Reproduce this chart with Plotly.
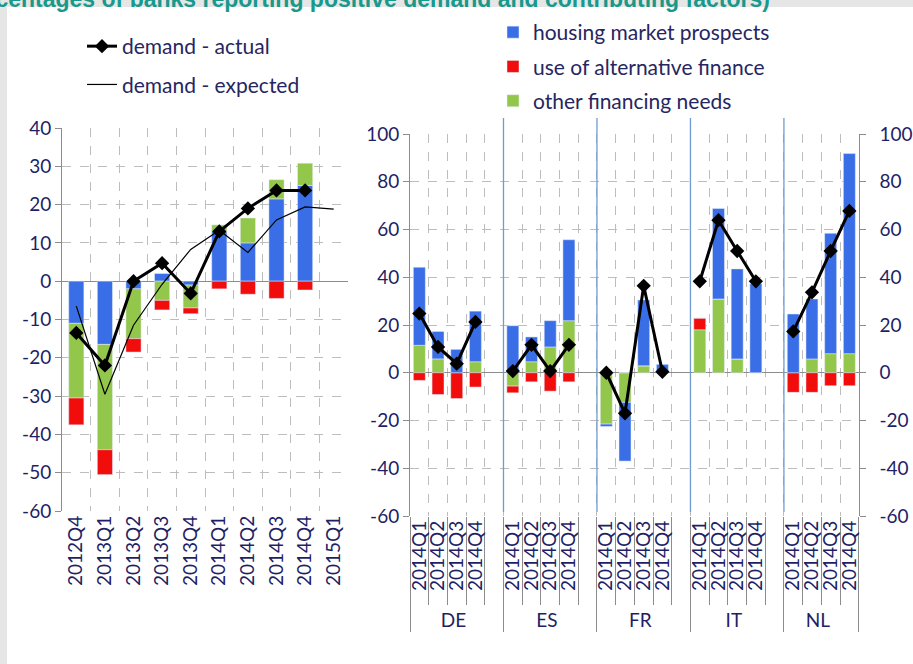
import plotly.graph_objects as go

# ---------------- data ----------------
left_quarters = ["2012Q4", "2013Q1", "2013Q2", "2013Q3", "2013Q4",
                 "2014Q1", "2014Q2", "2014Q3", "2014Q4", "2015Q1"]
left_housing = [-11.0, -16.5, -2.0, 2.0, -1.0, 13.0, 10.0, 21.5, 25.0, None]
left_other = [-19.5, -27.5, -13.0, -5.0, -6.0, 1.7, 6.5, 5.0, 5.8, None]
left_alternative = [-7.0, -6.5, -3.5, -2.5, -1.5, -2.0, -3.4, -4.5, -2.3, None]
left_actual = [-13.5, -22.0, 0.0, 4.7, -3.2, 13.0, 19.0, 23.7, 23.7, None]
left_expected = [-6.5, -29.5, -11.5, -0.8, 8.3, 13.3, 7.5, 16.0, 19.4, 18.8]
left_yticks = [-60, -50, -40, -30, -20, -10, 0, 10, 20, 30, 40]
left_yticktext = ["-60", "-50", "-40", "-30", "-20", "-10", "0", "10", "20", "30", "40"]

right_countries = ["DE", "ES", "FR", "IT", "NL"]
right_quarters = ["2014Q1", "2014Q2", "2014Q3", "2014Q4"]
# values listed country by country (DE, ES, FR, IT, NL), quarter by quarter
right_housing = [32.7, 11.5, 9.8, 21.2,
                 19.7, 10.4, 11.0, 33.9,
                 -1.0, -24.6, 27.6, 3.5,
                 0.0, 37.9, 37.7, 37.3,
                 24.6, 25.1, 50.4, 83.8]
right_alternative = [-3.2, -9.1, -10.8, -6.0,
                     -2.8, -3.8, -7.7, -3.8,
                     0.0, 0.0, 0.0, 0.0,
                     4.9, 0.0, 0.0, 0.0,
                     -8.2, -8.2, -5.4, -5.4]
right_other = [11.5, 5.8, 0.0, 4.6,
               -5.6, 4.6, 10.8, 21.8,
               -21.5, -12.4, 2.9, 0.0,
               18.0, 30.9, 5.8, 0.0,
               0.0, 5.8, 8.0, 8.0]
right_actual = [24.8, 10.8, 3.8, 21.3,
                0.7, 11.7, 0.7, 11.7,
                0.0, -17.0, 36.4, 0.4,
                38.3, 63.9, 51.0, 38.3,
                17.3, 33.7, 51.0, 67.8]
right_yticks = [-60, -40, -20, 0, 20, 40, 60, 80, 100]
right_yticktext = ["-60", "-40", "-20", "0", "20", "40", "60", "80", "100"]

title_text = "(percentages of banks reporting positive demand and contributing factors)"

# ---------------- styling ----------------
W, H = 913, 664
BLUE = "#3a6ee6"
RED = "#f20d0d"
GREEN = "#93c74b"
NAVY = "#1f1f66"
GRID = "#bdbdbd"
AXIS = "#8c8c8c"
FONT = "Lato"


def fx(p):
    return p / W


def fy(p):
    return 1 - p / H


# build the multicategory x for the right panel (gap slot after each country except last)
right_x_group, right_x_inner = [], []
for ci, c in enumerate(right_countries):
    for q in right_quarters:
        right_x_group.append(c)
        right_x_inner.append(q)
    if ci < len(right_countries) - 1:
        right_x_group.append(c)
        right_x_inner.append(" ")
right_x = [right_x_group, right_x_inner]


def expand(vals):
    out = []
    for ci in range(len(right_countries)):
        out += vals[ci * 4:(ci + 1) * 4]
        if ci < len(right_countries) - 1:
            out.append(None)
    return out


fig = go.Figure()

# ---- left panel bars (stack order: housing, other, alternative)
fig.add_trace(go.Bar(x=left_quarters, y=left_housing, name="housing market prospects",
                     marker_color=BLUE, width=0.53, xaxis="x", yaxis="y",
                     legend="legend2", legendgroup="housing", legendrank=1))
fig.add_trace(go.Bar(x=left_quarters, y=left_other, name="other financing needs",
                     marker_color=GREEN, width=0.53, xaxis="x", yaxis="y",
                     legend="legend2", legendgroup="other", legendrank=3))
fig.add_trace(go.Bar(x=left_quarters, y=left_alternative, name="use of alternative finance",
                     marker_color=RED, width=0.53, xaxis="x", yaxis="y",
                     legend="legend2", legendgroup="alt", legendrank=2))

# ---- right panel bars (stack order: other, alternative, housing)
fig.add_trace(go.Bar(x=right_x, y=expand(right_other), marker_color=GREEN, width=0.64,
                     xaxis="x2", yaxis="y2", showlegend=False,
                     legend="legend2", legendgroup="other"))
fig.add_trace(go.Bar(x=right_x, y=expand(right_alternative), marker_color=RED, width=0.64,
                     xaxis="x2", yaxis="y2", showlegend=False,
                     legend="legend2", legendgroup="alt"))
fig.add_trace(go.Bar(x=right_x, y=expand(right_housing), marker_color=BLUE, width=0.64,
                     xaxis="x2", yaxis="y2", showlegend=False,
                     legend="legend2", legendgroup="housing"))

# ---- lines
fig.add_trace(go.Scatter(x=left_quarters, y=left_actual, name="demand - actual",
                         mode="lines+markers", line=dict(color="black", width=3),
                         marker=dict(symbol="diamond", size=11, color="black"),
                         xaxis="x", yaxis="y", legend="legend", legendgroup="act"))
fig.add_trace(go.Scatter(x=left_quarters, y=left_expected, name="demand - expected",
                         mode="lines", line=dict(color="black", width=1.2),
                         xaxis="x", yaxis="y", legend="legend", legendgroup="exp"))
fig.add_trace(go.Scatter(x=right_x, y=expand(right_actual), mode="lines+markers",
                         line=dict(color="black", width=3), connectgaps=False,
                         marker=dict(symbol="diamond", size=11, color="black"),
                         xaxis="x2", yaxis="y2", showlegend=False, legendgroup="act"))
# invisible trace to carry the right-hand axis
fig.add_trace(go.Scatter(x=right_x, y=[None] * len(right_x_inner), mode="lines",
                         xaxis="x2", yaxis="y3", showlegend=False, hoverinfo="skip"))

tickfont = dict(family=FONT, size=19, color=NAVY)

fig.update_layout(
    width=W, height=H,
    margin=dict(l=0, r=0, t=0, b=0, autoexpand=False),
    paper_bgcolor="#e6e6e6",
    plot_bgcolor="white",
    barmode="relative",
    font=dict(family=FONT, color=NAVY),
    xaxis=dict(domain=[fx(62), fx(348)], anchor="y", type="category", automargin=False,
               range=[-0.5, 9.5], tickson="boundaries", showgrid=True,
               gridcolor=GRID, griddash="dash", gridwidth=1, ticks="",
               tickangle=-90, tickfont=dict(family=FONT, size=19, color=NAVY),
               showline=False, zeroline=False),
    yaxis=dict(domain=[fy(511), fy(128)], anchor="x", range=[-60, 40], automargin=False,
               tickvals=left_yticks, ticktext=left_yticktext, showgrid=True,
               gridcolor=GRID, griddash="dash", gridwidth=1, zeroline=True,
               zerolinecolor=AXIS, zerolinewidth=1.2, showline=True, linecolor=AXIS,
               ticks="outside", ticklen=6, tickcolor=AXIS, tickfont=tickfont),
    xaxis2=dict(domain=[fx(410), fx(858.7)], anchor="y2", type="multicategory",
                automargin=False, tickmode="linear", tick0=0, dtick=1,
                range=[-0.5, 23.5], showgrid=True, gridcolor=GRID, griddash="dash",
                gridwidth=1, ticks="outside", ticklen=88, tickcolor=AXIS,
                tickangle=-90, tickfont=dict(family=FONT, size=19, color=NAVY),
                dividercolor=AXIS, dividerwidth=1, showdividers=True,
                showline=False, zeroline=False),
    yaxis2=dict(domain=[fy(516), fy(134)], anchor="x2", range=[-60, 100], automargin=False,
                tickvals=right_yticks, ticktext=right_yticktext, showgrid=True,
                gridcolor=GRID, griddash="dash", gridwidth=1, zeroline=True,
                zerolinecolor=AXIS, zerolinewidth=1.2, showline=True, linecolor=AXIS,
                ticks="outside", ticklen=6, tickcolor=AXIS, tickfont=tickfont),
    yaxis3=dict(overlaying="y2", anchor="x2", side="right", range=[-60, 100],
                automargin=False,
                tickvals=right_yticks, ticktext=right_yticktext, showgrid=False,
                zeroline=False, showline=True, linecolor=AXIS, ticks="outside",
                ticklen=6, ticklabelstandoff=10, tickcolor=AXIS, tickfont=tickfont),
    legend=dict(x=fx(82), y=fy(26), xanchor="left", yanchor="top",
                bgcolor="rgba(0,0,0,0)", font=dict(family=FONT, size=21, color="#262660"),
                tracegroupgap=8, traceorder="grouped"),
    legend2=dict(x=fx(493), y=fy(12), xanchor="left", yanchor="top",
                 bgcolor="rgba(0,0,0,0)", font=dict(family=FONT, size=21, color="#262660"),
                 tracegroupgap=4, traceorder="grouped"),
    shapes=[
        dict(type="rect", xref="paper", yref="paper", x0=fx(7), x1=1.02,
             y0=-0.02, y1=fy(7), fillcolor="white", line=dict(width=0), layer="below"),
    ] + [
        dict(type="line", xref="x2", yref="paper", x0=b, x1=b, y0=fy(512), y1=fy(118),
             line=dict(color="#6f9bd0", width=1.3), layer="above")
        for b in [4.5, 9.5, 14.5, 19.5]
    ],
    annotations=[
        dict(text="<b>" + title_text + "</b>", xref="paper", yref="paper",
             x=fx(772), y=fy(14), xanchor="right", yanchor="bottom", showarrow=False,
             font=dict(family="Liberation Sans", size=23, color="#17998c")),
    ],
)

fig.write_html(
    "out.html",
    config={"displayModeBar": False},
    post_script="document.body.style.margin='0px';document.body.style.overflow='hidden';",
)
